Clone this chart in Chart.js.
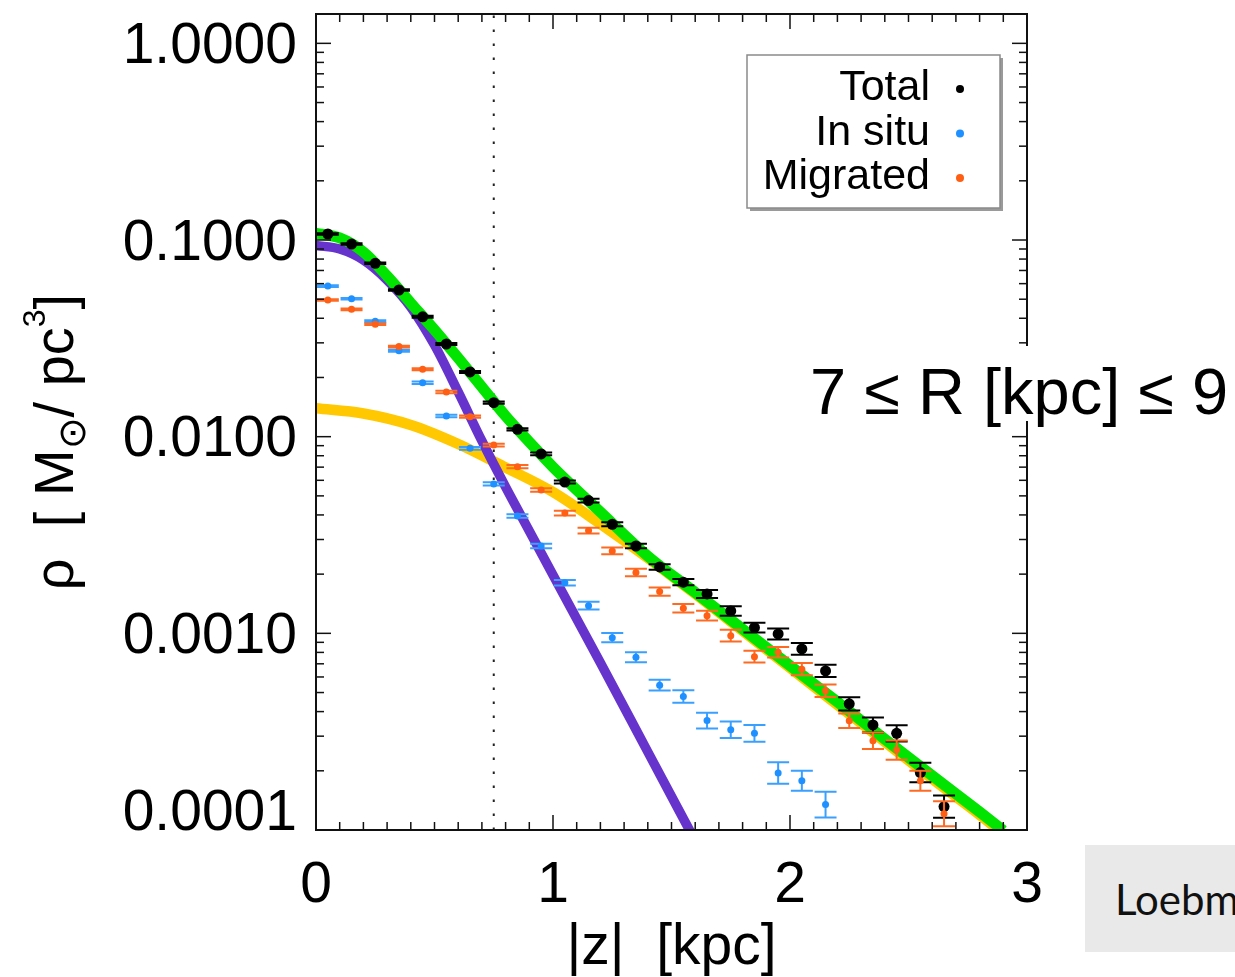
<!DOCTYPE html>
<html>
<head>
<meta charset="utf-8">
<title>Vertical density profile</title>
<script src="https://cdn.jsdelivr.net/npm/chart.js@4.4.1/dist/chart.umd.min.js"></script>
<style>
  html, body { margin: 0; padding: 0; background: #fff; }
  #wrap { position: relative; width: 1235px; height: 977px; overflow: hidden; }
  #densityChart { position: absolute; left: 0; top: 0; }
  #credit {
    position: absolute; left: 1085px; top: 845px; width: 200px; height: 107px;
    background: #e9e9e9; font-family: Lato, "Open Sans", sans-serif; font-size: 42px;
    color: #111; white-space: nowrap; display: flex; align-items: center;
    padding-left: 30px; box-sizing: border-box;
  }
</style>
</head>
<body>
<div id="wrap">
  <canvas id="densityChart" width="1235" height="977"></canvas>
  <div id="credit">Loebman et al.</div>
</div>
<script>
const FONT = "'Liberation Sans', Arial, Helvetica, sans-serif"

// binned |z| centres (kpc)
const zBins = [0.05, 0.15, 0.25, 0.35, 0.45, 0.55, 0.65, 0.75, 0.85, 0.95,
  1.05, 1.15, 1.25, 1.35, 1.45, 1.55, 1.65, 1.75, 1.85, 1.95,
  2.05, 2.15, 2.25, 2.35, 2.45, 2.55, 2.65]

// density in Msun / pc^3
const totalRho = [0.1073, 0.0954, 0.0761, 0.0557, 0.0407, 0.0296, 0.02133, 0.01489, 0.0109, 0.00817,
  0.00588, 0.00473, 0.003585, 0.00278, 0.002176, 0.00182, 0.001586, 0.0013, 0.00107, 0.000993,
  0.000833, 0.000644, 0.000438, 0.000342, 0.00031, 0.000196, 0.0001315]
const inSituRho = [0.0583, 0.0503, 0.0386, 0.02737, 0.01881, 0.01274, 0.00873, 0.00575, 0.00395, 0.00278,
  0.00181, 0.001383, 0.000951, 0.000756, 0.000545, 0.000477, 0.00036, 0.000323, 0.00031, 0.000195,
  0.000178, 0.0001346]
const migratedRho = [0.0495, 0.0444, 0.0373, 0.0287, 0.022, 0.01687, 0.01264, 0.00907, 0.00704, 0.00536,
  0.00409, 0.00333, 0.002624, 0.002036, 0.00163, 0.001342, 0.00123, 0.000973, 0.000761, 0.000801,
  0.000657, 0.000511, 0.000359, 0.000284, 0.000255, 0.000178, 0.000121]

// 1-sigma errors, in dex
const totalErr = [0.004, 0.004, 0.004, 0.004, 0.005, 0.005, 0.005, 0.006, 0.006, 0.007,
  0.008, 0.009, 0.01, 0.012, 0.014, 0.016, 0.02, 0.024, 0.025, 0.028,
  0.03, 0.031, 0.034, 0.038, 0.041, 0.05, 0.057]
const inSituErr = [0.004, 0.004, 0.005, 0.005, 0.006, 0.006, 0.007, 0.008, 0.009, 0.011,
  0.014, 0.02, 0.024, 0.025, 0.027, 0.032, 0.04, 0.042, 0.042, 0.055,
  0.051, 0.065]
const migratedErr = [0.004, 0.004, 0.004, 0.005, 0.005, 0.006, 0.006, 0.007, 0.008, 0.009,
  0.012, 0.015, 0.017, 0.019, 0.021, 0.022, 0.025, 0.03, 0.03, 0.027,
  0.031, 0.032, 0.037, 0.042, 0.049, 0.051, 0.064]

// fitted profiles: total, thin and thick components
const fitZ = [0, 0.1, 0.2, 0.3, 0.4, 0.5, 0.6, 0.7, 0.8, 0.9, 1.0, 1.2, 1.4, 1.6, 1.8, 2.0, 2.2, 2.4, 2.6, 2.8, 2.9]
const fitTotal = [0.1081, 0.1024, 0.0869, 0.0656, 0.0478, 0.0349, 0.0251, 0.0179, 0.01274, 0.0094, 0.00701,
  0.00414, 0.00247, 0.001614, 0.001052, 0.000685, 0.000448, 0.00029, 0.000189, 0.0001236, 0.0000994]
const thinZ = [0, 0.1, 0.2, 0.3, 0.4, 0.5, 0.6, 0.7, 0.8, 0.9, 1.0, 1.2, 1.4, 1.6]
const fitThin = [0.0938, 0.09, 0.0791, 0.0626, 0.0456, 0.02925, 0.01688, 0.00951, 0.00555, 0.003316, 0.00198,
  0.000708, 0.0002496, 0.0000881]
const thickZ = [0, 0.2, 0.4, 0.6, 0.8, 1.0, 1.2, 1.4, 1.6, 1.8, 2.0, 2.2, 2.4, 2.6, 2.8, 2.9]
const fitThick = [0.01394, 0.01312, 0.01147, 0.00918, 0.00697, 0.00523, 0.0036, 0.002417, 0.001586, 0.001028,
  0.000667, 0.000433, 0.000281, 0.000182, 0.0001194, 0.0000956]

const zCut = 0.75
const xTickValues = [0, 1, 2, 3]
const yTickValues = [0.0001, 0.001, 0.01, 0.1, 1]
const yTickLabels = ["0.0001", "0.0010", "0.0100", "0.1000", "1.0000"]
const legendLabels = ["Total", "In situ", "Migrated"]
const radialBinLabel = "7 \u2264 R [kpc] \u2264 9"

const xy = (xs, ys) => ys.map((v, i) => ({ x: xs[i], y: v }))

// vertical error bars drawn under each point series
const errorBars = {
  id: "errorBars",
  beforeDatasetDraw(chart, args) {
    const ds = chart.data.datasets[args.index]
    if (!ds.errDex) return
    const { ctx, chartArea: a, scales: { x, y } } = chart
    ctx.save()
    ctx.beginPath()
    ctx.rect(a.left, a.top, a.right - a.left, a.bottom - a.top)
    ctx.clip()
    ctx.strokeStyle = ds.errColor
    ctx.lineWidth = 2
    ds.data.forEach((p, i) => {
      const f = Math.pow(10, ds.errDex[i])
      const px = x.getPixelForValue(p.x)
      const hi = y.getPixelForValue(p.y * f)
      const lo = y.getPixelForValue(p.y / f)
      ctx.beginPath()
      ctx.moveTo(px, hi); ctx.lineTo(px, lo)
      ctx.moveTo(px - 11, hi); ctx.lineTo(px + 11, hi)
      ctx.moveTo(px - 11, lo); ctx.lineTo(px + 11, lo)
      ctx.stroke()
    })
    ctx.restore()
  },
}

// box frame with inward ticks on all four sides, legend, labels
const decorations = {
  id: "decorations",
  afterDraw(chart) {
    const { ctx, chartArea: a, scales: { x, y } } = chart
    ctx.save()
    ctx.strokeStyle = "#111"
    ctx.lineWidth = 1.5
    const tick = (x0, y0, dx, dy) => { ctx.beginPath(); ctx.moveTo(x0, y0); ctx.lineTo(x0 + dx, y0 + dy); ctx.stroke() }

    for (let k = 1; k < 30; k++) {
      const v = k / 10
      const px = x.getPixelForValue(v)
      const len = k % 10 === 0 ? 15 : 8
      tick(px, a.bottom, 0, -len)
      tick(px, a.top, 0, len)
    }
    yTickValues.forEach((dec) => {
      const py = y.getPixelForValue(dec)
      tick(a.left, py, 15, 0)
      tick(a.right, py, -15, 0)
      if (dec >= 1) return
      for (let m = 2; m <= 9; m++) {
        const pm = y.getPixelForValue(dec * m)
        tick(a.left, pm, 8, 0)
        tick(a.right, pm, -8, 0)
      }
    })
    ctx.lineWidth = 2
    ctx.strokeRect(a.left, a.top, a.right - a.left, a.bottom - a.top)

    // radial bin annotation sits on a white patch over the right edge
    ctx.fillStyle = "#fff"
    ctx.fillRect(800, 346, 435, 75)
    ctx.fillStyle = "#000"
    ctx.font = "65px " + FONT
    ctx.textBaseline = "alphabetic"
    ctx.textAlign = "left"
    ctx.fillText(radialBinLabel, 810, 414)

    // legend: text right-aligned, marker after it
    const bx = 747, by = 55, bw = 253, bh = 153
    ctx.fillStyle = "#9a9a9a"
    ctx.fillRect(bx + 3, by + 3, bw, bh)
    ctx.fillStyle = "#fff"
    ctx.fillRect(bx, by, bw, bh)
    ctx.strokeStyle = "#8a8a8a"
    ctx.lineWidth = 1.5
    ctx.strokeRect(bx, by, bw, bh)
    ctx.font = "43px " + FONT
    ctx.textAlign = "right"
    legendLabels.forEach((lab, i) => {
      const ds = chart.data.datasets.find((d) => d.label === lab)
      const base = 100 + i * 44.5
      ctx.fillStyle = "#000"
      ctx.fillText(lab, 930, base)
      ctx.fillStyle = ds.pointBackgroundColor
      ctx.beginPath()
      ctx.arc(960, base - 11, 4, 0, Math.PI * 2)
      ctx.fill()
    })

    // y title with subscript sun and cubed parsec
    const parts = [
      { t: "\u03c1  [ M", size: 56, dy: 0 },
      { t: "\u2299", size: 38, dy: 12 },
      { t: "/ pc", size: 56, dy: 0 },
      { t: "3", size: 32, dy: -28 },
      { t: "]", size: 56, dy: 0 },
    ]
    ctx.translate(73, 442)
    ctx.rotate(-Math.PI / 2)
    ctx.textAlign = "left"
    ctx.fillStyle = "#000"
    let total = 0
    parts.forEach((p) => { ctx.font = p.size + "px " + FONT; p.w = ctx.measureText(p.t).width; total += p.w })
    let cx = -total / 2
    parts.forEach((p) => {
      ctx.font = p.size + "px " + FONT
      ctx.fillText(p.t, cx, p.dy)
      cx += p.w
    })
    ctx.restore()
  },
}

const canvas = document.getElementById("densityChart")

new Chart(canvas, {
  type: "scatter",
  data: {
    datasets: [
      {
        label: "Migrated",
        data: xy(zBins, migratedRho),
        errDex: migratedErr,
        errColor: "#ff6a22",
        pointBackgroundColor: "#ff5f14",
        pointRadius: 3.5,
        pointBorderWidth: 0,
        order: 1,
      },
      {
        label: "In situ",
        data: xy(zBins, inSituRho),
        errDex: inSituErr,
        errColor: "#3aa0ff",
        pointBackgroundColor: "#1e90ff",
        pointRadius: 3.5,
        pointBorderWidth: 0,
        order: 2,
      },
      {
        label: "Total",
        data: xy(zBins, totalRho),
        errDex: totalErr,
        errColor: "#000",
        pointBackgroundColor: "#000",
        pointRadius: 5.5,
        pointBorderWidth: 0,
        order: 3,
      },
      {
        label: "total fit",
        data: xy(fitZ, fitTotal),
        showLine: true,
        borderColor: "#00e400",
        borderWidth: 11,
        pointRadius: 0,
        cubicInterpolationMode: "monotone",
        order: 10,
      },
      {
        label: "thin",
        data: xy(thinZ, fitThin),
        showLine: true,
        borderColor: "#6633cc",
        borderWidth: 9.5,
        pointRadius: 0,
        cubicInterpolationMode: "monotone",
        order: 11,
      },
      {
        label: "thick",
        data: xy(thickZ, fitThick),
        showLine: true,
        borderColor: "#ffc800",
        borderWidth: 10.5,
        pointRadius: 0,
        cubicInterpolationMode: "monotone",
        order: 12,
      },
      {
        label: "cut",
        data: [{ x: zCut, y: yTickValues[0] }, { x: zCut, y: 1.41 }],
        showLine: true,
        borderColor: "#222",
        borderWidth: 2,
        borderDash: [2.5, 11.5],
        pointRadius: 0,
        order: 20,
      },
    ],
  },
  plugins: [errorBars, decorations],
  options: {
    responsive: false,
    animation: false,
    events: [],
    layout: { autoPadding: false, padding: { left: 0, top: 14, right: 208, bottom: 0 } },
    plugins: { legend: { display: false }, tooltip: { enabled: false } },
    scales: {
      x: {
        type: "linear",
        min: 0,
        max: 3,
        grid: { display: false, drawTicks: false },
        border: { display: false },
        afterBuildTicks: (s) => { s.ticks = xTickValues.map((v) => ({ value: v })) },
        afterFit: (s) => { s.height = 147; s.paddingLeft = 0; s.paddingRight = 0 },
        ticks: {
          color: "#000",
          padding: 22,
          maxRotation: 0,
          autoSkip: false,
          font: { family: FONT, size: 57 },
          callback: (v) => String(v),
        },
        title: {
          display: true,
          text: "|z|  [kpc]",
          color: "#000",
          padding: 0,
          font: { family: FONT, size: 57, lineHeight: 1 },
        },
      },
      y: {
        type: "logarithmic",
        min: 0.0001,
        max: 1.41,
        grid: { display: false, drawTicks: false },
        border: { display: false },
        afterBuildTicks: (s) => { s.ticks = yTickValues.map((v) => ({ value: v })) },
        afterFit: (s) => { s.width = 316; s.paddingTop = 0; s.paddingBottom = 0 },
        ticks: {
          color: "#000",
          padding: 19,
          labelOffset: 4,
          autoSkip: false,
          font: (c) => ({
            family: FONT,
            size: 57,
            lineHeight: c.tick && c.tick.value === yTickValues[0] ? 0.7 : 1.2,
          }),
          callback: (v) => {
            const i = yTickValues.indexOf(v)
            return i === 0 ? [yTickLabels[i], ""] : yTickLabels[i]
          },
        },
      },
    },
  },
})
</script>
</body>
</html>
